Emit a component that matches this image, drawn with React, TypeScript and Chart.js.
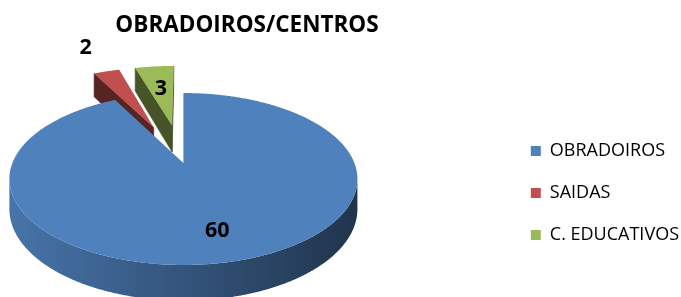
import React, { useEffect, useRef } from "react";
import { Chart, registerables } from "chart.js";

Chart.register(...registerables);

// ---- data ----
const categories = ["OBRADOIROS", "SAIDAS", "C. EDUCATIVOS"];
const values = [60, 2, 3];
const sliceColors = ["#4F81BD", "#C0504D", "#9BBB59"];
const chartTitle = "OBRADOIROS/CENTROS";

// ---- 3D styling (not data) ----
const FONT = "'Open Sans', 'Noto Sans', sans-serif";
const ASPECT = 2.06; // horizontal stretch of the disc
const PERSP = 0.186; // perspective strength
const DEPTH = 29; // thickness in px
const EXPLODE = [0, 0.5, 0.5]; // fraction of radius
const LABEL_R = [0.72, 1.55, 0.6]; // label distance (fraction of radius)
const CUT_SHADE = 0.45;
const SIDE_LEFT = 0.9;
const SIDE_RIGHT = 0.4;

// ---- canvas placement (layout) ----
const CANVAS_LEFT = -195;
const CANVAS_W = 884;
const CANVAS_H = 297;
const LEFT_SPACER = 55;

function toRgb(hex: string) {
  const h = hex.replace("#", "");
  return [0, 2, 4].map((i) => parseInt(h.substr(i, 2), 16));
}
function shade(hex: string, f: number) {
  const [r, g, b] = toRgb(hex);
  const c = (x: number) => Math.max(0, Math.min(255, Math.round(x * f)));
  return `rgb(${c(r)},${c(g)},${c(b)})`;
}

type Pt = { x: number; y: number };

const pie3d = {
  id: "pie3d",
  beforeDatasetsDraw(chart: any) {
    const ctx: CanvasRenderingContext2D = chart.ctx;
    const meta = chart.getDatasetMeta(0);
    const ds = chart.data.datasets[0];
    const arcs = meta.data as any[];
    if (!arcs.length) return false;
    const cx = arcs[0].x;
    const cy = arcs[0].y;
    const R = arcs[0].outerRadius;
    const P = (u: number, v: number, h: number): Pt => {
      const w = 1 / (1 - PERSP * v);
      return { x: cx + R * ASPECT * u * w, y: cy + R * v * w + DEPTH * h * w };
    };
    const area = (pts: Pt[]) => {
      let s = 0;
      for (let k = 0; k < pts.length; k++) {
        const a = pts[k];
        const b = pts[(k + 1) % pts.length];
        s += a.x * b.y - b.x * a.y;
      }
      return s / 2;
    };
    const fillPoly = (pts: Pt[], col: any, stroke: boolean) => {
      ctx.beginPath();
      ctx.moveTo(pts[0].x, pts[0].y);
      for (let k = 1; k < pts.length; k++) ctx.lineTo(pts[k].x, pts[k].y);
      ctx.closePath();
      ctx.fillStyle = col;
      ctx.fill();
      if (stroke) {
        ctx.strokeStyle = col;
        ctx.lineWidth = 0.6;
        ctx.stroke();
      }
    };
    const xl = cx - R * ASPECT * 1.02;
    const xr = cx + R * ASPECT * 1.02;

    const slices = arcs.map((a: any, i: number) => {
      const s = a.startAngle;
      const e = a.endAngle;
      const m = (s + e) / 2;
      const ex = EXPLODE[i] || 0;
      return { i, s, e, m, ox: ex * Math.cos(m), oy: ex * Math.sin(m), color: ds.backgroundColor[i] as string };
    });
    const order = slices
      .slice()
      .sort((a, b) => a.oy + Math.sin(a.m) - (b.oy + Math.sin(b.m)));

    ctx.save();
    for (const sl of order) {
      const { s, e, ox, oy, color } = sl;
      const rim = (t: number, h: number) => P(ox + Math.cos(t), oy + Math.sin(t), h);
      const apex = (h: number) => P(ox, oy, h);
      const n = Math.max(2, Math.ceil((e - s) / (Math.PI / 360)));
      // cut faces
      const sf = [apex(0), rim(s, 0), rim(s, 1), apex(1)];
      if (area(sf) < -0.5) fillPoly(sf, shade(color, CUT_SHADE), true);
      const ef = [rim(e, 0), apex(0), apex(1), rim(e, 1)];
      if (area(ef) < -0.5) fillPoly(ef, shade(color, CUT_SHADE), true);
      // outer wall: contiguous visible runs, one gradient path each
      const grad = ctx.createLinearGradient(xl, 0, xr, 0);
      grad.addColorStop(0, shade(color, SIDE_LEFT));
      grad.addColorStop(1, shade(color, SIDE_RIGHT));
      let run: number[] = [];
      const flush = () => {
        if (run.length > 1) {
          const pts: Pt[] = [];
          for (const t of run) pts.push(rim(t, 0));
          for (let k = run.length - 1; k >= 0; k--) pts.push(rim(run[k], 1));
          fillPoly(pts, grad, false);
        }
        run = [];
      };
      for (let k = 0; k < n; k++) {
        const t0 = s + ((e - s) * k) / n;
        const t1 = s + ((e - s) * (k + 1)) / n;
        const q = [rim(t0, 0), rim(t1, 0), rim(t1, 1), rim(t0, 1)];
        if (area(q) < 0) {
          if (!run.length) run.push(t0);
          run.push(t1);
        } else flush();
      }
      flush();
      // top face
      const top: Pt[] = [apex(0)];
      for (let k = 0; k <= n; k++) top.push(rim(s + ((e - s) * k) / n, 0));
      fillPoly(top, color, false);
    }

    ctx.font = `bold 21.5px ${FONT}`;
    ctx.textAlign = "center";
    ctx.textBaseline = "middle";
    ctx.fillStyle = "#000";
    for (const sl of slices) {
      const k = LABEL_R[sl.i];
      const pt = P(sl.ox + k * Math.cos(sl.m), sl.oy + k * Math.sin(sl.m), 0);
      ctx.fillText(String(values[sl.i]), pt.x, pt.y + 1);
    }
    ctx.restore();
    return false;
  },
};

export default function App() {
  const ref = useRef<HTMLCanvasElement | null>(null);
  useEffect(() => {
    document.body.style.margin = "0";
    if (!ref.current) return;
    const chart = new Chart(ref.current, {
      type: "pie",
      data: {
        labels: categories,
        datasets: [
          {
            data: values,
            backgroundColor: sliceColors,
            borderWidth: 0,
            radius: 83,
          } as any,
        ],
      },
      options: {
        responsive: false,
        animation: false,
        events: [],
        layout: { padding: { left: 0, right: 0, top: 0, bottom: 10 } },
        plugins: {
          title: {
            display: true,
            text: chartTitle,
            color: "#000",
            font: { family: FONT, size: 22.5, weight: "bold" },
            padding: { top: 12, bottom: 0 },
          },
          subtitle: {
            display: true,
            position: "left",
            text: "",
            font: { size: 10 },
            padding: { top: LEFT_SPACER - 12, bottom: 0 },
          },
          legend: {
            position: "right",
            align: "start",
            labels: {
              boxWidth: 10,
              boxHeight: 10,
              padding: 24,
              color: "#000",
              font: { family: FONT, size: 18 },
            },
            title: {
              display: true,
              text: "",
              padding: { top: 103.6, bottom: 0 },
              font: { size: 12 },
            },
          },
          tooltip: { enabled: false },
        },
      } as any,
      plugins: [pie3d as any],
    });
    return () => chart.destroy();
  }, []);
  return (
    <div style={{ position: "relative", width: 681, height: 297, overflow: "hidden" }}>
      <canvas
        ref={ref}
        width={CANVAS_W}
        height={CANVAS_H}
        style={{ display: "block", position: "absolute", left: CANVAS_LEFT, top: 0 }}
      />
    </div>
  );
}
